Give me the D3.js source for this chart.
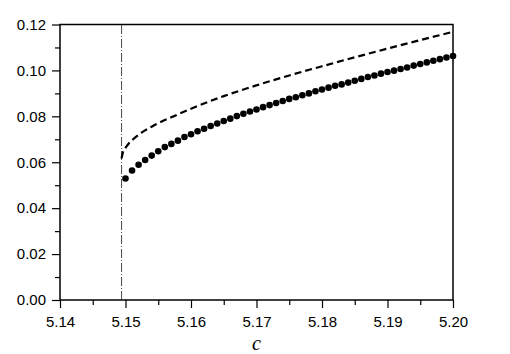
<!DOCTYPE html>
<html lang="en">
<head>
<meta charset="utf-8">
<script src="https://d3js.org/d3.v7.min.js"></script>
<style>
  body { margin: 0; background: #fff; }
  .tick text { font: 15px "Liberation Sans", Arial, sans-serif; fill: #000; }
</style>
</head>
<body>
<div id="viz"></div>
<script>
// dots: c from 5.150 to 5.200 step 0.001
var dotStart = 5.150, dotStep = 0.001;
var dotValues = [
  0.0529, 0.0564, 0.0589, 0.0610, 0.0629, 0.0648, 0.0666, 0.0680, 0.0694, 0.0710,
  0.0722, 0.0735, 0.0746, 0.0758, 0.0769, 0.0780, 0.0790, 0.0801, 0.0811, 0.0821,
  0.0830, 0.0840, 0.0849, 0.0858, 0.0867, 0.0876, 0.0883, 0.0892, 0.0900, 0.0909,
  0.0917, 0.0925, 0.0933, 0.0939, 0.0947, 0.0955, 0.0963, 0.0971, 0.0978, 0.0986,
  0.0993, 0.0999, 0.1006, 0.1013, 0.1021, 0.1028, 0.1035, 0.1042, 0.1049, 0.1056,
  0.1063
];
// dashed curve
var dashC = [5.1494, 5.1496, 5.1500, 5.1505, 5.1515, 5.1525, 5.1540, 5.1550, 5.1575,
             5.1600, 5.1650, 5.1700, 5.1750, 5.1800, 5.1850, 5.1900, 5.1950, 5.2000];
var dashY = [0.0617, 0.0643, 0.0663, 0.0682, 0.0708, 0.0730, 0.0755, 0.0770, 0.0802,
             0.0833, 0.0888, 0.0935, 0.0978, 0.1018, 0.1057, 0.1095, 0.1132, 0.1168];
var threshold = 5.1494;
var xTicks = [5.14, 5.15, 5.16, 5.17, 5.18, 5.19, 5.20];
var yTicks = [0.00, 0.02, 0.04, 0.06, 0.08, 0.10, 0.12];

var W = 510, H = 354;
var margin = {top: 24.5, right: 57, bottom: 54, left: 60};
var width = W - margin.left - margin.right,
    height = H - margin.top - margin.bottom;

var svg = d3.select("#viz").append("svg")
    .attr("width", W).attr("height", H)
  .append("g")
    .attr("transform", "translate(" + margin.left + "," + margin.top + ")");

var x = d3.scaleLinear().domain([5.14, 5.20]).range([0, width]);
var y = d3.scaleLinear().domain([0, 0.12]).range([height, 0]);

// minor ticks
var xMinor = xTicks.slice(0, -1).map(function(d) { return d + 0.005; });
var yMinor = yTicks.slice(0, -1).map(function(d) { return d + 0.01; });

svg.append("g")
    .attr("transform", "translate(0," + height + ")")
    .call(d3.axisBottom(x).tickValues(xMinor).tickSize(5).tickFormat(""))
    .call(function(g) { g.select(".domain").remove(); });
svg.append("g")
    .call(d3.axisLeft(y).tickValues(yMinor).tickSize(5).tickFormat(""))
    .call(function(g) { g.select(".domain").remove(); });

svg.append("g")
    .attr("transform", "translate(0," + height + ")")
    .call(d3.axisBottom(x).tickValues(xTicks).tickSize(8).tickPadding(8).tickFormat(d3.format(".2f")))
    .call(function(g) { g.select(".domain").remove(); });
svg.append("g")
    .call(d3.axisLeft(y).tickValues(yTicks).tickSize(8).tickPadding(6).tickFormat(d3.format(".2f")))
    .call(function(g) { g.select(".domain").remove(); });

svg.selectAll(".tick line").attr("stroke", "#000").attr("stroke-width", 1.2);

// frame
svg.append("rect")
    .attr("x", 0).attr("y", 0)
    .attr("width", width).attr("height", height)
    .attr("fill", "none").attr("stroke", "#000").attr("stroke-width", 1.5);

// threshold line
svg.append("line")
    .attr("x1", x(threshold)).attr("x2", x(threshold))
    .attr("y1", y(0)).attr("y2", y(0.12))
    .attr("stroke", "#333").attr("stroke-width", 0.9)
    .attr("stroke-dasharray", "9,2,1,2");

// dashed curve
var line = d3.line()
    .x(function(d, i) { return x(dashC[i]); })
    .y(function(d) { return y(d); })
    .curve(d3.curveMonotoneX);
svg.append("path")
    .datum(dashY)
    .attr("d", line)
    .attr("fill", "none").attr("stroke", "#000").attr("stroke-width", 2.2)
    .attr("stroke-dasharray", "7,4");

// dots
svg.append("g").selectAll("circle")
    .data(dotValues)
    .enter().append("circle")
    .attr("cx", function(d, i) { return x(dotStart + i * dotStep); })
    .attr("cy", function(d) { return y(d); })
    .attr("r", 3.3)
    .attr("fill", "#000");

// axis label
svg.append("text")
    .attr("x", x(5.17))
    .attr("y", height + 50)
    .attr("text-anchor", "middle")
    .style("font", "italic 20px 'Liberation Serif', 'Times New Roman', serif")
    .text("c");
</script>
</body>
</html>
